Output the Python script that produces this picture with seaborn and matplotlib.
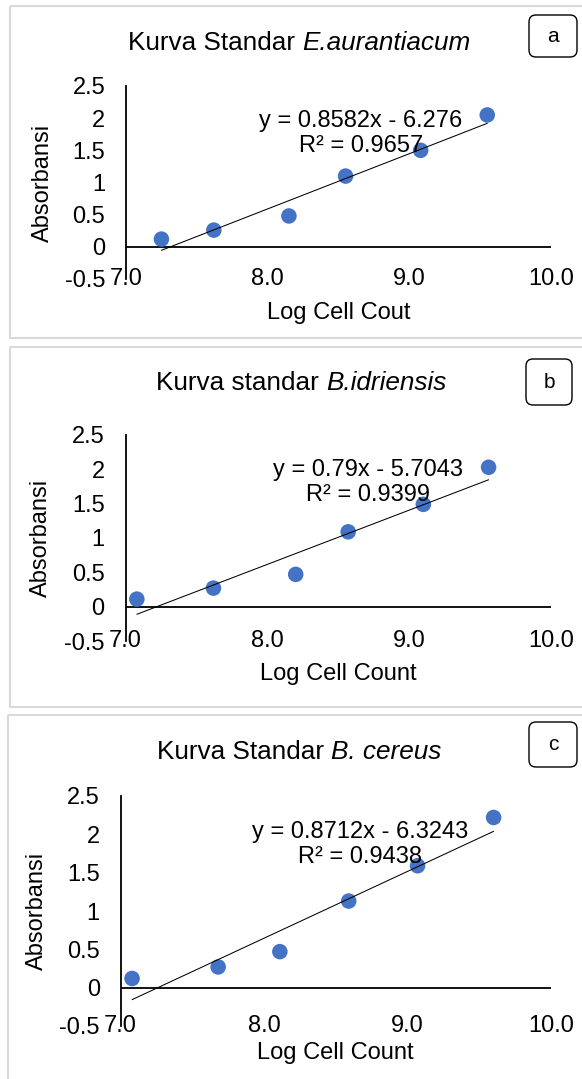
import matplotlib
matplotlib.use("Agg")
import matplotlib.pyplot as plt
import matplotlib.transforms as mtransforms
from matplotlib.patches import Rectangle, FancyBboxPatch
import numpy as np
import pandas as pd
import seaborn as sns

# ---- data -------------------------------------------------------------
log_a = [7.25, 7.62, 8.15, 8.55, 9.08, 9.55]
abs_a = [0.12, 0.26, 0.48, 1.10, 1.50, 2.05]
log_b = [7.08, 7.62, 8.20, 8.57, 9.10, 9.56]
abs_b = [0.11, 0.27, 0.47, 1.09, 1.49, 2.03]
log_c = [7.08, 7.68, 8.11, 8.59, 9.07, 9.60]
abs_c = [0.12, 0.27, 0.47, 1.13, 1.59, 2.22]

slopes = [0.8582, 0.79, 0.8712]
intercepts = [-6.276, -5.7043, -6.3243]
r_squared = ["0.9657", "0.9399", "0.9438"]
slope_txt = ["0.8582", "0.79", "0.8712"]
intercept_txt = ["6.276", "5.7043", "6.3243"]

title_plain = ["Kurva Standar ", "Kurva standar ", "Kurva Standar "]
title_species = ["E.aurantiacum", "B.idriensis", "B. cereus"]
xlabels = ["Log Cell Cout", "Log Cell Count", "Log Cell Count"]
ylabel = "Absorbansi"
panel_tags = ["a", "b", "c"]

x_ticks = [7, 8, 9, 10]
x_ticklabels = ["7.0", "8.0", "9.0", "10.0"]
y_ticks = [-0.5, 0, 0.5, 1, 1.5, 2, 2.5]
y_ticklabels = ["-0.5", "0", "0.5", "1", "1.5", "2", "2.5"]

# ---- style ------------------------------------------------------------
sns.set_theme(style="white")
plt.rcParams["font.family"] = ["Liberation Sans", "DejaVu Sans"]

W, H = 582, 1079
fig = plt.figure(figsize=(W / 100, H / 100), dpi=100)
fig.patch.set_facecolor("white")

# pixel coordinates measured from the top-left corner
px = mtransforms.Affine2D().scale(1 / W, -1 / H).translate(0, 1) + fig.transFigure

POINT_COLOR = "#4472C4"

# layout of each panel (pixels)
frames = [(10, 6, 338), (10, 347, 707), (8, 715, 1090)]      # left, top, bottom
axes_px = [(126, 86, 551, 279), (125.5, 435, 551, 641), (120.6, 796, 551, 1026)]
title_pos = [(299, 43), (301, 383), (299, 752)]
tag_boxes = [(529, 15, 577, 57), (526, 359, 572, 405), (529, 722, 577, 767)]
eq_pos = [(0.553, 0.754), (0.571, 0.769), (0.557, 0.790)]
ylab_x = [42.7, 40.8, 37.0]
xlab_y = [313, 674, 1053]

datasets = [(log_a, abs_a), (log_b, abs_b), (log_c, abs_c)]
renderer = fig.canvas.get_renderer()

for i, (xs, ys) in enumerate(datasets):
    fl, ft, fb = frames[i]
    fig.patches.append(Rectangle((fl, ft), W + 20 - fl, fb - ft, transform=px,
                                 fill=False, edgecolor="#d9d9d9", linewidth=1.5))

    l, t, r, b = axes_px[i]
    ax = fig.add_axes([l / W, 1 - b / H, (r - l) / W, (b - t) / H])
    ax.set_facecolor("none")

    df = pd.DataFrame({"log": xs, "absorb": ys})
    sns.scatterplot(data=df, x="log", y="absorb", ax=ax, color=POINT_COLOR,
                    s=125, edgecolor="none", zorder=3)

    # linear trendline from the stated equation
    xfit = np.array([min(xs), max(xs)])
    fit = pd.DataFrame({"log": xfit, "absorb": slopes[i] * xfit + intercepts[i]})
    sns.lineplot(data=fit, x="log", y="absorb", ax=ax, color="black",
                 linewidth=0.75, zorder=4)

    ax.axhline(0, color="black", linewidth=1.3, zorder=2)
    ax.set_xlim(7, 10)
    ax.set_ylim(-0.5, 2.5)
    for side in ["top", "right", "bottom"]:
        ax.spines[side].set_visible(False)
    ax.spines["left"].set_color("black")
    ax.spines["left"].set_linewidth(1.3)

    ax.set_xticks(x_ticks)
    ax.set_xticklabels(x_ticklabels)
    ax.set_yticks(y_ticks)
    ax.set_yticklabels(y_ticklabels)
    ax.tick_params(axis="both", length=0, labelsize=17, colors="black")
    ax.tick_params(axis="y", pad=15)
    ax.tick_params(axis="x", pad=0)
    for lab in ax.get_xticklabels():
        lab.set_va("center")
    ax.set_xlabel("")
    ax.set_ylabel("")

    ax.text(eq_pos[i][0], eq_pos[i][1],
            f"y = {slope_txt[i]}x - {intercept_txt[i]}\nR² = {r_squared[i]}",
            transform=ax.transAxes, ha="center", va="center", fontsize=17,
            linespacing=1.2, color="black", zorder=5)

    # title: upright prefix followed by the italic species name, centred as one line
    tx, ty = title_pos[i]
    part1 = fig.text(0, ty, title_plain[i], transform=px, ha="left",
                     va="center", fontsize=18.8, color="black")
    part2 = fig.text(0, ty, title_species[i], transform=px, ha="left",
                     va="center", fontsize=18.8, color="black", style="italic")
    w1 = part1.get_window_extent(renderer).width
    w2 = part2.get_window_extent(renderer).width
    x0 = tx - (w1 + w2) / 2
    part1.set_x(x0)
    part2.set_x(x0 + w1)

    fig.text(ylab_x[i], (t + b) / 2, ylabel, transform=px, rotation=90,
             ha="center", va="center", fontsize=17, color="black")
    fig.text((l + r) / 2, xlab_y[i], xlabels[i], transform=px,
             ha="center", va="center", fontsize=17, color="black")

    bx0, by0, bx1, by1 = tag_boxes[i]
    fig.patches.append(FancyBboxPatch((bx0, by0), bx1 - bx0, by1 - by0,
                                      boxstyle="round,pad=0,rounding_size=7",
                                      transform=px, facecolor="white",
                                      edgecolor="black", linewidth=1.0))
    fig.text((bx0 + bx1) / 2, (by0 + by1) / 2, panel_tags[i], transform=px,
             ha="center", va="center", fontsize=15, color="black")

fig.savefig("out.png", dpi=100, facecolor="white")
